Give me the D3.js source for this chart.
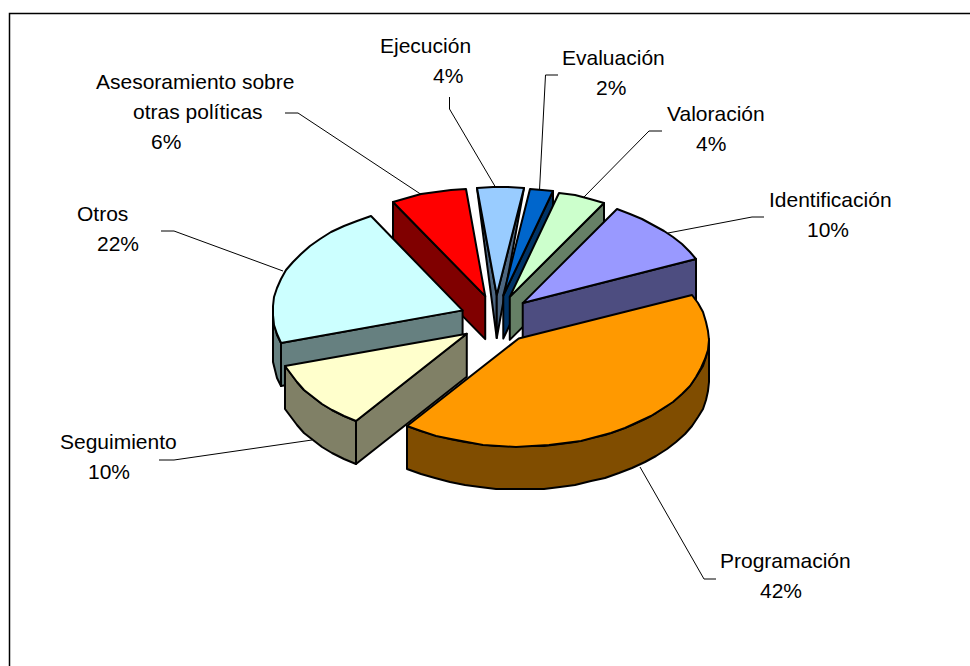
<!DOCTYPE html>
<html>
<head>
<meta charset="utf-8">
<script src="https://cdn.jsdelivr.net/npm/d3@7"></script>
<style>
    html, body { margin: 0; padding: 0; background: #fff; }
    svg { display: block; }
    text { font-family: "Liberation Sans", Arial, sans-serif; font-size: 21px; fill: #000; }
</style>
</head>
<body>
<svg id="pieSvg" width="970" height="666"></svg>
<script>
// clockwise from the Programación slice
const categories = ["Programación", "Seguimiento", "Otros", "Asesoramiento sobre otras políticas", "Ejecución", "Evaluación", "Valoración", "Identificación"];
const percents = [41.5, 10.2, 21.7, 6.4, 3.9, 1.9, 4.1, 10];
const topColors = ["#ff9900", "#ffffcc", "#ccffff", "#ff0000", "#99ccff", "#0066cc", "#ccffcc", "#9999ff"];
const sideColors = ["#804d00", "#808066", "#668080", "#800000", "#4d6680", "#003366", "#668066", "#4d4d80"];

// label lines are placed by hand, the % is not centred under the name in the original
const labelLines = [
    [["Programación", 720, 568], ["42%", 760, 598]],
    [["Seguimiento", 60, 449], ["10%", 88, 479]],
    [["Otros", 77, 221], ["22%", 97, 251]],
    [["Asesoramiento sobre", 96, 89], ["otras políticas", 133, 119], ["6%", 151, 149]],
    [["Ejecución", 380, 53], ["4%", 433, 83]],
    [["Evaluación", 562, 65], ["2%", 596, 95]],
    [["Valoración", 667, 121], ["4%", 696, 151]],
    [["Identificación", 769, 207], ["10%", 807, 237]]
];
const leaderLines = [
    [[716, 579], [704, 579], [640, 467]],
    [[159, 460], [174, 460], [312, 440]],
    [[161, 231], [174, 231], [283, 271]],
    [[285, 113], [298, 113], [422, 195]],
    [[449.5, 97], [449.5, 109], [496, 188]],
    [[558, 75], [545.5, 75], [539.5, 190]],
    [[662, 131], [649, 131], [583, 198]],
    [[764, 217], [752, 217], [668, 233]]
];

const svg = d3.select("#pieSvg");
const cx = 496, cy = 319.5, depth = 43, explodeX = 36, explodeY = 24.5;

const px = d3.scaleLinear().domain([-1, 1]).range([-190, 190]);
const py = d3.scaleLinear().domain([-1, 1]).range([-108, 108]);

const startAngle = 66 * Math.PI / 180;
const slices = d3.pie().sort(null)
    .startAngle(startAngle)
    .endAngle(startAngle + 2 * Math.PI)(percents);

// original rim is a rough polygon, so keep whole pixels
const line = d3.line().curve(d3.curveLinearClosed);
const open = d3.line();

function center(d) {
    const mid = (d.startAngle + d.endAngle) / 2;
    return [cx + Math.sin(mid) * explodeX, cy - Math.cos(mid) * explodeY];
}
function rimPoint(d, a, dy) {
    const c = center(d);
    return [Math.round(c[0] + px(Math.sin(a))), Math.round(c[1] + py(-Math.cos(a))) + dy];
}
function arcPoints(d, a0, a1, dy) {
    const n = Math.max(1, Math.ceil((a1 - a0) / (5 * Math.PI / 180)));
    return d3.range(n + 1).map(i => rimPoint(d, a0 + (a1 - a0) * i / n, dy));
}
function wall(d, a) {
    const c = center(d);
    const pts = [c, rimPoint(d, a, 0)];
    // nearly edge-on walls come to a point in the original
    if (Math.abs(Math.sin(a)) > 0.2) pts.push(rimPoint(d, a, depth));
    pts.push([c[0], c[1] + depth]);
    return pts;
}

const order = d3.range(slices.length).sort((i, j) => {
    const m = k => (slices[k].startAngle + slices[k].endAngle) / 2;
    return Math.cos(m(j)) - Math.cos(m(i));
});

// frame, only top and left are in view
svg.append("path")
    .attr("d", open([[9.5, 666], [9.5, 13.5], [970, 13.5]]))
    .attr("fill", "none")
    .attr("stroke", "#000")
    .attr("stroke-width", 1.5);

leaderLines.forEach(l => {
    svg.append("path")
        .attr("d", open(l))
        .attr("fill", "none")
        .attr("stroke", "#000")
        .attr("stroke-width", 1);
});

order.forEach(i => {
    const d = slices[i];
    const g = svg.append("g").attr("class", "slice");
    const face = pts => g.append("path")
        .attr("d", line(pts))
        .attr("fill", sideColors[i])
        .attr("stroke", "#000")
        .attr("stroke-width", 2)
        .attr("stroke-linejoin", "round");

    if (Math.sin(d.startAngle) < 0) face(wall(d, d.startAngle));
    if (Math.sin(d.endAngle) > 0) face(wall(d, d.endAngle));

    // outer rim, only the near half shows
    const a0 = Math.max(d.startAngle, Math.PI / 2);
    const a1 = Math.min(d.endAngle, 3 * Math.PI / 2);
    if (a1 > a0) {
        face(arcPoints(d, a0, a1, 0).concat(arcPoints(d, a0, a1, depth).reverse()));
    }

    g.append("path")
        .attr("d", line([center(d)].concat(arcPoints(d, d.startAngle, d.endAngle, 0))))
        .attr("fill", topColors[i])
        .attr("stroke", "#000")
        .attr("stroke-width", 2)
        .attr("stroke-linejoin", "round");
});

labelLines.forEach(lines => {
    lines.forEach(t => {
        svg.append("text").attr("x", t[1]).attr("y", t[2]).text(t[0]);
    });
});
</script>
</body>
</html>
